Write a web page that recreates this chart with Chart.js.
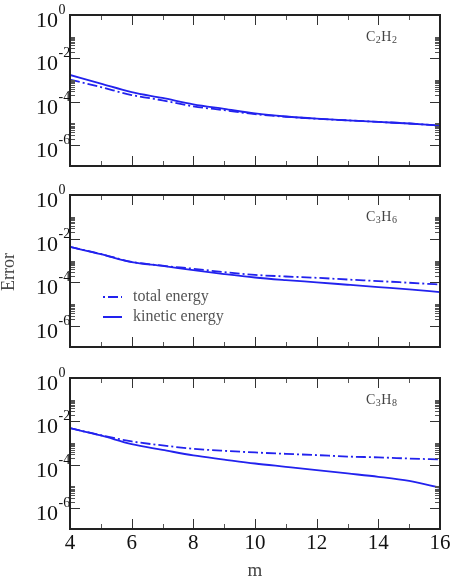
<!DOCTYPE html>
<html>
<head>
<meta charset="utf-8">
<script src="https://cdn.jsdelivr.net/npm/chart.js@4.4.0/dist/chart.umd.min.js"></script>
<style>
    body { margin: 0; background: #fff; width: 451px; height: 577px; position: relative; overflow: hidden; }
    canvas { position: absolute; left: 0; display: block; }
    .axis-title { position: absolute; font-family: "Liberation Serif", serif; color: #444; white-space: nowrap; text-align: center; }
</style>
</head>
<body>
<canvas id="c2h2Chart" width="451" height="180" style="top:0"></canvas>
<canvas id="c3h6Chart" width="451" height="180" style="top:180px"></canvas>
<canvas id="c3h8Chart" width="451" height="217" style="top:360px"></canvas>
<div class="axis-title" style="left:-22.5px; top:263px; width:60px; font-size:18px; line-height:18px; transform:rotate(-90deg);">Error</div>
<div class="axis-title" style="left:225px; top:560px; width:60px; font-size:19px; line-height:19px;">m</div>

<script>
// Basis size m
const mValues = [4, 5, 6, 7, 8, 9, 10, 11, 12, 13, 14, 15, 16];

// C2H2
const c2h2Total   = [1.05e-3, 4.8e-4, 2.05e-4, 1.17e-4, 6.2e-5, 4.1e-5, 2.7e-5, 2.05e-5, 1.65e-5, 1.4e-5, 1.18e-5, 1.0e-5, 8.0e-6];
const c2h2Kinetic = [1.72e-3, 6.9e-4, 2.8e-4, 1.5e-4, 7.6e-5, 4.7e-5, 2.9e-5, 2.1e-5, 1.67e-5, 1.4e-5, 1.18e-5, 1.0e-5, 8.0e-6];

// C3H6
const c3h6Total   = [4.2e-3, 2.0e-3, 8.7e-4, 5.8e-4, 4.2e-4, 2.95e-4, 2.2e-4, 1.86e-4, 1.62e-4, 1.35e-4, 1.15e-4, 9.6e-5, 8.0e-5];
const c3h6Kinetic = [4.2e-3, 1.96e-3, 8.5e-4, 5.7e-4, 3.6e-4, 2.4e-4, 1.67e-4, 1.27e-4, 1.0e-4, 7.8e-5, 6.1e-5, 4.8e-5, 3.6e-5];

// C3H8
const c3h8Total   = [4.9e-3, 2.3e-3, 1.2e-3, 7.8e-4, 5.5e-4, 4.4e-4, 3.7e-4, 3.2e-4, 2.8e-4, 2.4e-4, 2.2e-4, 1.95e-4, 1.75e-4];
const c3h8Kinetic = [4.9e-3, 2.25e-3, 8.9e-4, 4.9e-4, 2.7e-4, 1.75e-4, 1.15e-4, 8.1e-5, 5.7e-5, 4.0e-5, 2.8e-5, 1.8e-5, 8.9e-6];

// Ticks
const xMajorTicks = [4, 6, 8, 10, 12, 14, 16];
const xMinorTicks = [5, 7, 9, 11, 13, 15];
const yMajorTicks = [1, 1e-2, 1e-4, 1e-6];
const yTickExponents = ['0', '-2', '-4', '-6'];
const yMinorDecades = [1e-2, 1e-4, 1e-6];

const seriesLabels = ['total energy', 'kinetic energy'];

const lineColor = '#2222ee';
const dashDot = [10, 3, 2, 3];
const serif = '"Liberation Serif", "Times New Roman", serif';

// Frame, ticks, labels, molecule name and legend
const framePlugin = {
    id: 'frame',
    afterDraw(chart, args, opts) {
        const ctx = chart.ctx;
        const area = chart.chartArea;
        const xs = chart.scales.x;
        const ys = chart.scales.y;
        ctx.save();

        // minor ticks
        ctx.strokeStyle = '#555';
        ctx.lineWidth = 1;
        ctx.beginPath();
        xMinorTicks.forEach(v => {
            const px = Math.round(xs.getPixelForValue(v)) + 0.5;
            ctx.moveTo(px, area.bottom); ctx.lineTo(px, area.bottom - 5);
            ctx.moveTo(px, area.top); ctx.lineTo(px, area.top + 5);
        });
        yMinorDecades.forEach(d => {
            for (let k = 2; k <= 10; k++) {
                const py = Math.round(ys.getPixelForValue(k * d)) + 0.5;
                ctx.moveTo(area.left, py); ctx.lineTo(area.left + 5, py);
                ctx.moveTo(area.right, py); ctx.lineTo(area.right - 5, py);
            }
        });
        ctx.stroke();

        // major ticks
        ctx.strokeStyle = '#333';
        ctx.beginPath();
        xMajorTicks.forEach(v => {
            const px = Math.round(xs.getPixelForValue(v)) + 0.5;
            ctx.moveTo(px, area.bottom); ctx.lineTo(px, area.bottom - 10);
            ctx.moveTo(px, area.top); ctx.lineTo(px, area.top + 10);
        });
        yMajorTicks.forEach(v => {
            const py = Math.round(ys.getPixelForValue(v)) + 0.5;
            ctx.moveTo(area.left, py); ctx.lineTo(area.left + 10, py);
            ctx.moveTo(area.right, py); ctx.lineTo(area.right - 10, py);
        });
        ctx.stroke();

        // frame
        ctx.strokeStyle = '#222';
        ctx.lineWidth = 2;
        ctx.strokeRect(area.left, area.top, area.right - area.left, area.bottom - area.top);

        // y tick labels 10^n
        ctx.fillStyle = '#111';
        yMajorTicks.forEach((v, i) => {
            const py = ys.getPixelForValue(v);
            ctx.font = '22px ' + serif;
            ctx.textAlign = 'right';
            ctx.textBaseline = 'alphabetic';
            ctx.fillText('10', area.left - 12, py + 12);
            ctx.font = '14px ' + serif;
            ctx.textAlign = 'left';
            ctx.fillText(yTickExponents[i], area.left - 11.5, py - 1);
        });

        // x tick labels (bottom panel only)
        if (opts.xLabels) {
            ctx.font = '21px ' + serif;
            ctx.textAlign = 'center';
            xMajorTicks.forEach(v => {
                ctx.fillText(String(v), xs.getPixelForValue(v), area.bottom + 20);
            });
        }

        // molecule name with subscripts
        if (opts.molecule) {
            ctx.fillStyle = '#444';
            ctx.textAlign = 'left';
            let x = area.left + 296;
            const base = area.top + 26;
            for (const ch of opts.molecule) {
                const sub = /[0-9]/.test(ch);
                ctx.font = (sub ? '10px ' : '14px ') + serif;
                ctx.fillText(ch, x, sub ? base + 2 : base);
                x += ctx.measureText(ch).width + 0.5;
            }
        }

        // legend
        if (opts.legend) {
            const rows = [
                { ds: chart.data.datasets[0], y: area.top + 102 },
                { ds: chart.data.datasets[1], y: area.top + 122 }
            ];
            rows.forEach(r => {
                ctx.strokeStyle = r.ds.borderColor;
                ctx.lineWidth = 2;
                ctx.setLineDash(r.ds.borderDash || []);
                ctx.lineDashOffset = r.ds.borderDash ? 13 : 0;
                ctx.beginPath();
                ctx.moveTo(area.left + 33, r.y);
                ctx.lineTo(area.left + 52, r.y);
                ctx.stroke();
                ctx.setLineDash([]);
                ctx.fillStyle = '#555';
                ctx.font = '16px ' + serif;
                ctx.textAlign = 'left';
                ctx.fillText(r.ds.label, area.left + 63, r.y + 4);
            });
        }
        ctx.restore();
    }
};

function makePanel(canvasId, totalData, kineticData, extra) {
    const ctx = document.getElementById(canvasId).getContext('2d');
    return new Chart(ctx, {
        type: 'line',
        data: {
            datasets: [{
                label: seriesLabels[0],
                data: mValues.map((m, i) => ({ x: m, y: totalData[i] })),
                borderColor: lineColor,
                borderWidth: 1.8,
                borderDash: dashDot,
                pointRadius: 0,
                cubicInterpolationMode: 'monotone',
                fill: false
            }, {
                label: seriesLabels[1],
                data: mValues.map((m, i) => ({ x: m, y: kineticData[i] })),
                borderColor: lineColor,
                borderWidth: 1.8,
                pointRadius: 0,
                cubicInterpolationMode: 'monotone',
                fill: false
            }]
        },
        options: {
            responsive: false,
            animation: false,
            layout: { padding: extra.padding },
            scales: {
                x: { type: 'linear', min: 4, max: 16, display: false },
                y: { type: 'logarithmic', min: 1.1e-7, max: 1, display: false }
            },
            plugins: {
                legend: { display: false },
                tooltip: { enabled: false },
                frame: extra.frame
            }
        },
        plugins: [framePlugin]
    });
}

makePanel('c2h2Chart', c2h2Total, c2h2Kinetic, {
    padding: { left: 70, right: 11, top: 15, bottom: 14 },
    frame: { molecule: 'C2H2' }
});
makePanel('c3h6Chart', c3h6Total, c3h6Kinetic, {
    padding: { left: 70, right: 11, top: 15, bottom: 13 },
    frame: { molecule: 'C3H6', legend: true }
});
makePanel('c3h8Chart', c3h8Total, c3h8Kinetic, {
    padding: { left: 70, right: 11, top: 18, bottom: 48 },
    frame: { molecule: 'C3H8', xLabels: true }
});
</script>
</body>
</html>
